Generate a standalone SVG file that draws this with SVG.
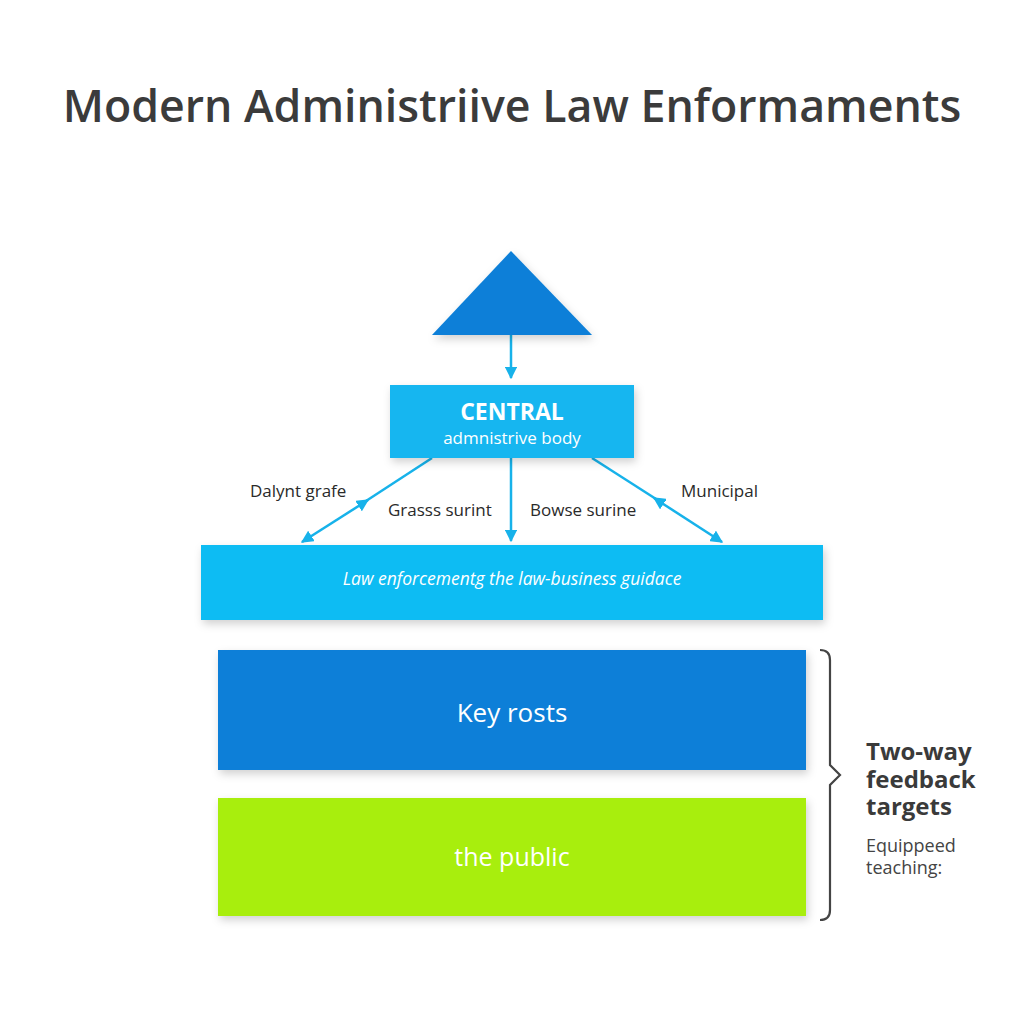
<svg xmlns="http://www.w3.org/2000/svg" width="1024" height="1024" viewBox="0 0 1024 1024">
<defs>
<filter id="sh" x="-10%" y="-20%" width="120%" height="150%">
<feDropShadow dx="2" dy="4" stdDeviation="4" flood-color="#000" flood-opacity="0.18"/>
</filter>
<marker id="ah" viewBox="0 0 10 10" refX="9" refY="5" markerWidth="5" markerHeight="5" orient="auto-start-reverse" markerUnits="strokeWidth">
<path d="M0,0 L10,5 L0,10 z" fill="#17b2ea"/>
</marker>
<style>
.t{font-family:"Open Sans","Noto Sans",sans-serif}
.lbl{font-family:"Open Sans","Noto Sans",sans-serif;font-size:17px;fill:#2a2a2a}
.con{stroke:#17b2ea;stroke-width:2.5;fill:none}
.wt{fill:#ffffff;text-anchor:middle}
.fb{font-family:"Open Sans","Noto Sans",sans-serif;font-size:24px;font-weight:700;fill:#3a3a3a}
</style>
</defs>
<rect width="1024" height="1024" fill="#ffffff"/>
<text class="t" x="512" y="122" text-anchor="middle" font-size="44.7" font-weight="600" fill="#3b3b3b">Modern Administriive Law Enformaments</text>

<g id="connectors">
<line class="con" x1="511" y1="335" x2="511" y2="378" marker-end="url(#ah)"/>
<line class="con" x1="511" y1="458" x2="511" y2="541" marker-end="url(#ah)"/>
<line class="con" x1="432" y1="458" x2="366" y2="501"/>
<line class="con" x1="302" y1="542" x2="368" y2="500" marker-start="url(#ah)" marker-end="url(#ah)"/>
<line class="con" x1="592" y1="458" x2="656" y2="499"/>
<line class="con" x1="722" y1="542" x2="654" y2="498" marker-start="url(#ah)" marker-end="url(#ah)"/>
</g>

<g id="apex">
<polygon points="511,251 592,335 432,335" fill="#0a7fd8" filter="url(#sh)"/>
</g>

<g id="central">
<rect x="390" y="385" width="244" height="73" fill="#14b6f0" filter="url(#sh)"/>
<text class="t wt" x="512" y="420" font-size="23" font-weight="700">CENTRAL</text>
<text class="t wt" x="512" y="444" font-size="17">admnistrive body</text>
</g>

<g id="labels">
<text class="lbl" x="250" y="497">Dalynt grafe</text>
<text class="lbl" x="388" y="516">Grasss surint</text>
<text class="lbl" x="530" y="516">Bowse surine</text>
<text class="lbl" x="681" y="497">Municipal</text>
</g>

<g id="enforcement">
<rect x="201" y="545" width="622" height="75" fill="#0ebcf3" filter="url(#sh)"/>
<text class="t wt" x="512" y="585" font-size="17.5" font-style="italic">Law enforcementg the law-business guidace</text>
</g>

<g id="key-rosts">
<rect x="218" y="650" width="588" height="120" fill="#0a7fd8" filter="url(#sh)"/>
<text class="t wt" x="512" y="722" font-size="26">Key rosts</text>
</g>

<g id="public">
<rect x="218" y="798" width="588" height="118" fill="#a8ee10" filter="url(#sh)"/>
<text class="t wt" x="512" y="866" font-size="25">the public</text>
</g>

<g id="brace">
<path d="M820,650 Q830,650 830,660 L830,765 L840,775 L830,785 L830,910 Q830,920 820,920" fill="none" stroke="#444444" stroke-width="2.2"/>
</g>

<g id="feedback">
<text class="fb" x="866" y="760">Two-way</text>
<text class="fb" x="866" y="788">feedback</text>
<text class="fb" x="866" y="815">targets</text>
<text class="t" x="866" y="852" font-size="18" fill="#444444">Equippeed</text>
<text class="t" x="866" y="874" font-size="18" fill="#444444">teaching:</text>
</g>
</svg>
